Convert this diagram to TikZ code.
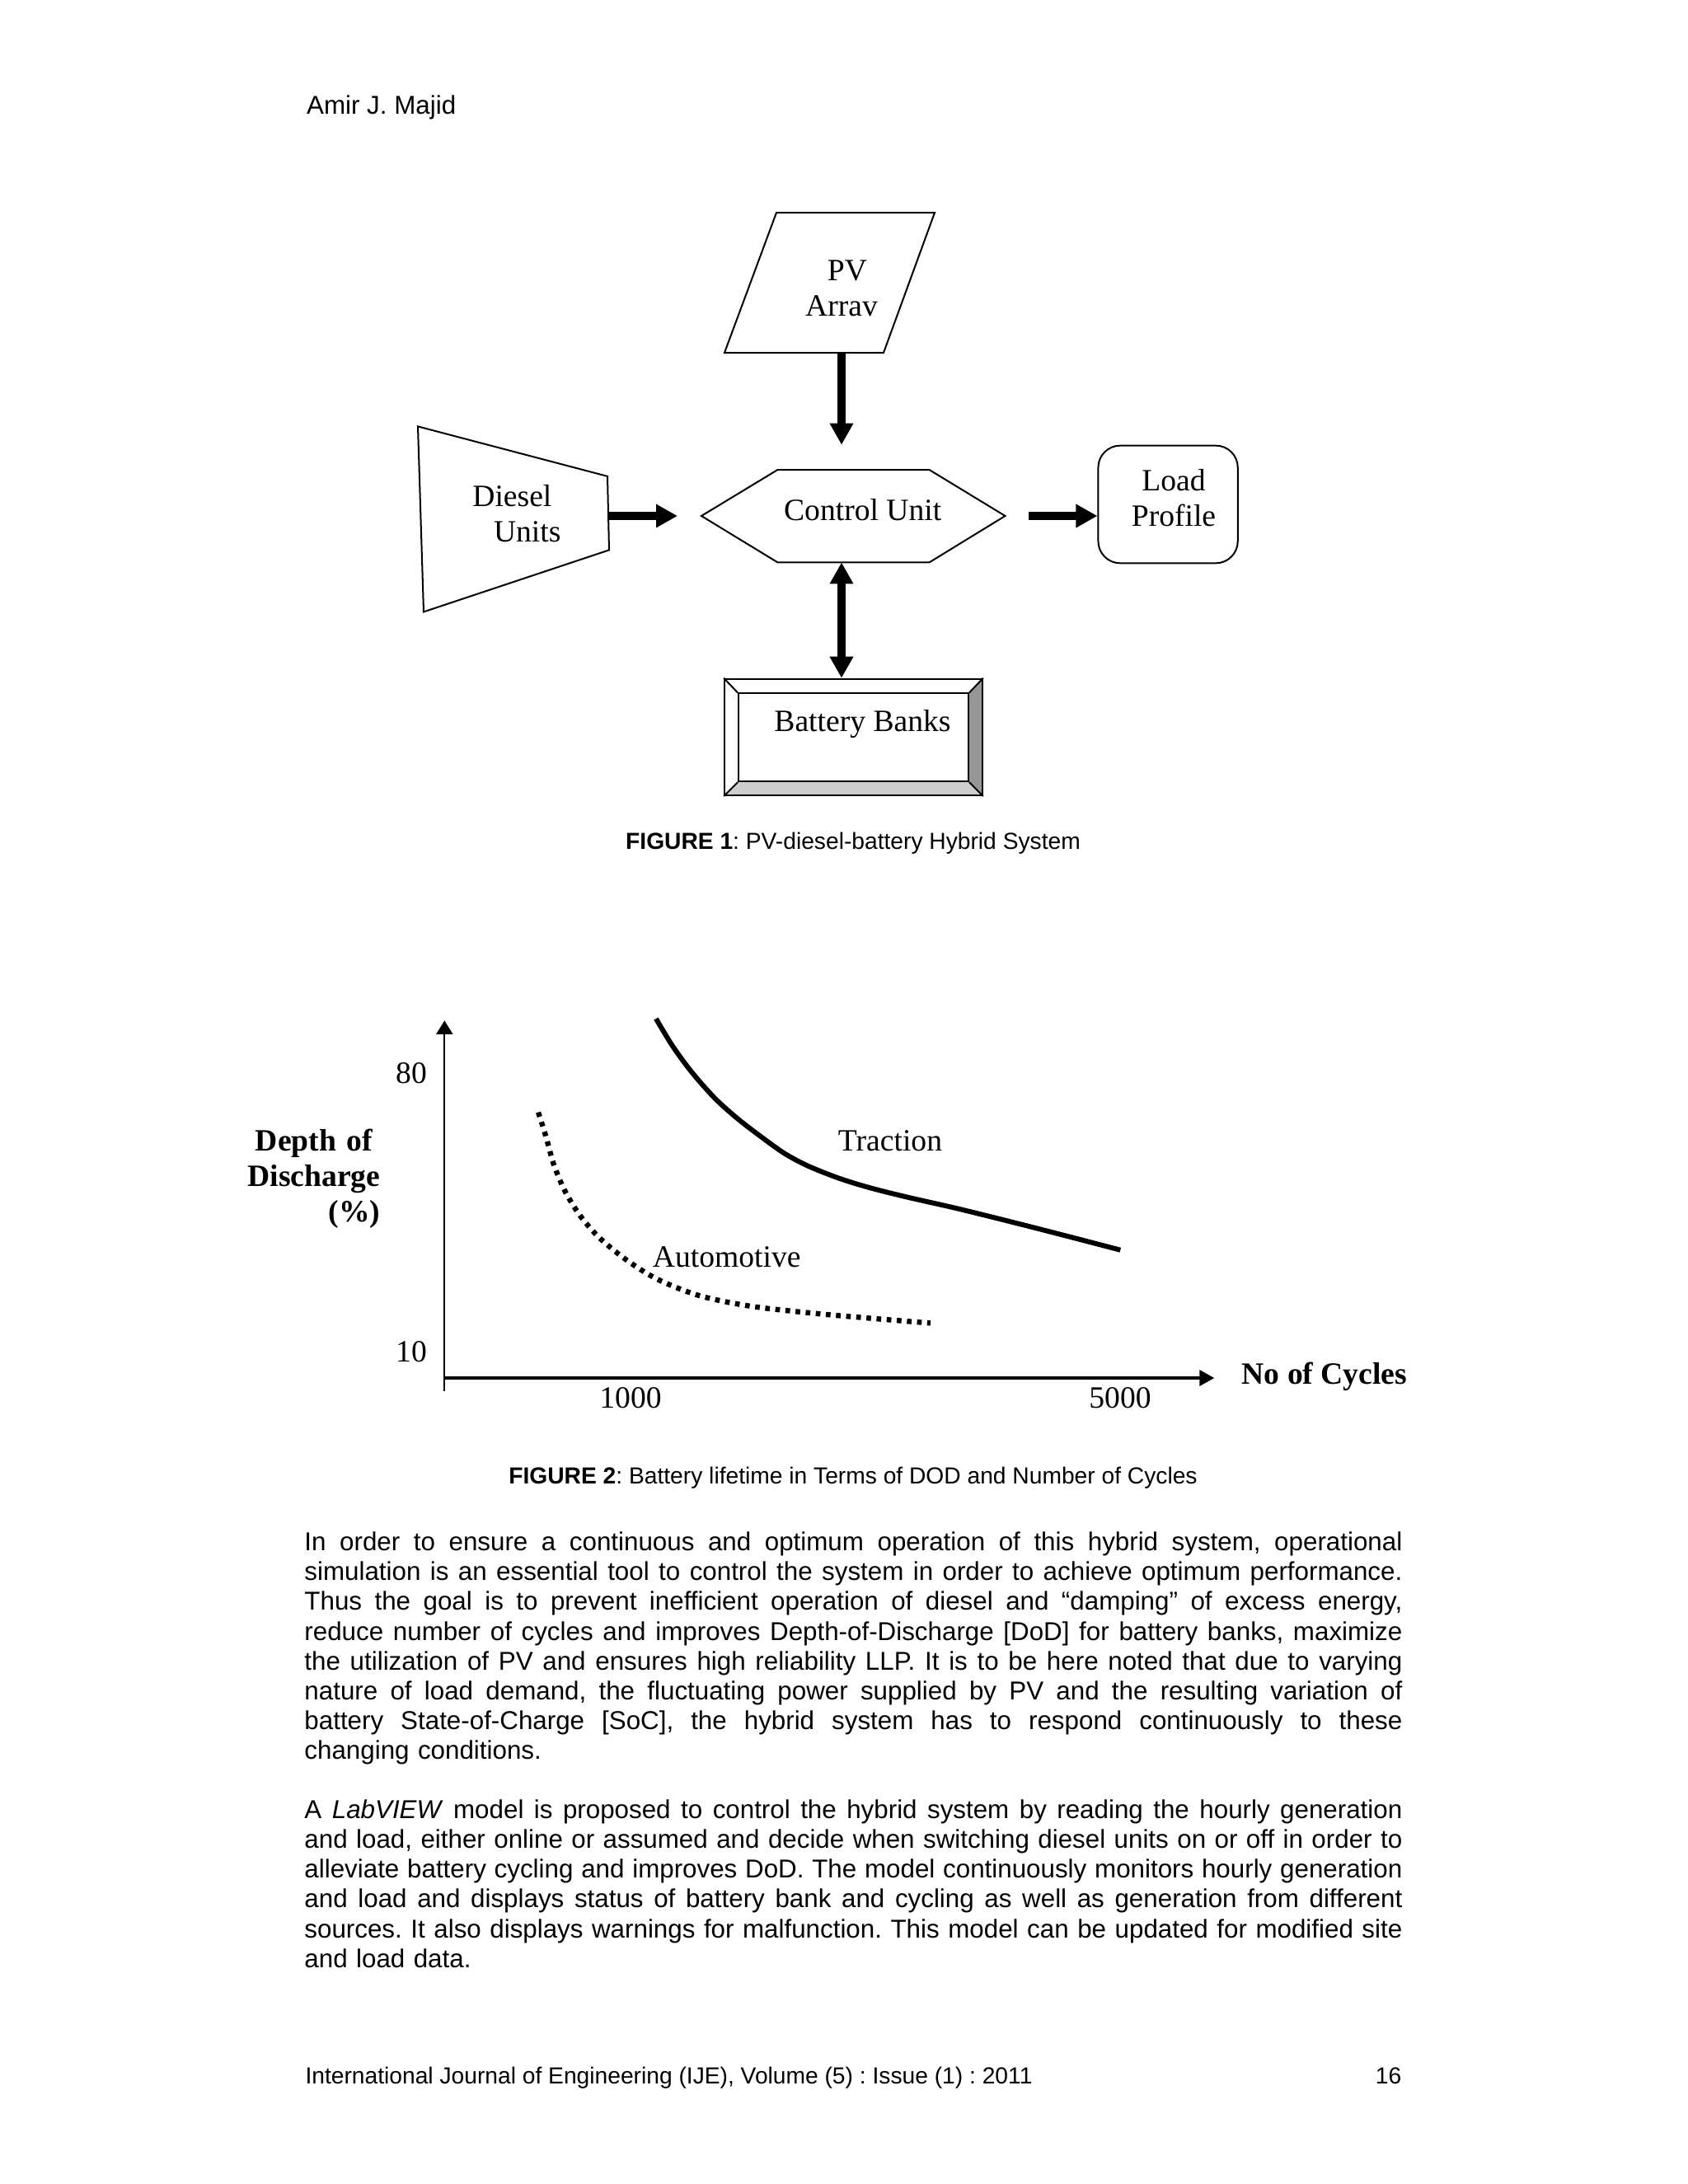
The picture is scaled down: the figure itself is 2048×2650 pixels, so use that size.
\documentclass[tikz,border=0pt]{standalone}
\usepackage{fontspec}
\setmainfont{Liberation Serif}
\newfontfamily\arialfont{Liberation Sans}
\newfontfamily\timesfont{Liberation Serif}
\usepackage{xcolor}
\usetikzlibrary{arrows.meta,positioning,backgrounds}
\definecolor{beveldark}{RGB}{150,150,150}
\definecolor{bevellight}{RGB}{205,205,205}
\setlength{\parindent}{0pt}
\frenchspacing
\newlength{\bodywidth}
\setlength{\bodywidth}{399.6pt}
\tikzset{
  bodytext/.style = {inner sep=0pt, font=\arialfont\fontsize{9.4}{10.83}\selectfont},
  captext/.style  = {inner sep=0pt, font=\arialfont\fontsize{8.46}{9.7}\selectfont},
  figtext/.style  = {inner sep=0pt, font=\timesfont\fontsize{11.28}{12.9}\selectfont},
  figbold/.style  = {inner sep=0pt, font=\timesfont\bfseries\fontsize{11.28}{12.9}\selectfont},
  outline/.style  = {draw, line width=0.6pt, line join=miter},
  loadbox/.style  = {draw, line width=0.6pt, rounded corners=8pt,
                     minimum width=50.8pt, minimum height=42.8pt, inner sep=0pt},
  batbox/.style   = {draw, line width=0.6pt, inner sep=0pt},
  bigarr/.style   = {-{Triangle[length=7.8pt,width=8.1pt]}, line width=3pt},
  bigdarr/.style  = {{Triangle[length=7.8pt,width=8.1pt]}-{Triangle[length=7.8pt,width=8.1pt]},
                     line width=3pt},
  yaxis/.style    = {-{Triangle[length=5pt,width=6pt]}, line width=0.6pt},
  xaxis/.style    = {-{Triangle[length=5.4pt,width=5.7pt]}, line width=1pt},
  traction/.style = {line width=1.8pt},
  automotive/.style = {line width=1.9pt, dash pattern=on 1.7pt off 2pt},
}
% one justified line of body text
\newcommand{\jline}[1]{\hbox to\bodywidth{\spaceskip=0.2778em plus 0.5em minus 0.08em\relax #1}\par}

\begin{document}
\begin{tikzpicture}[x=0.3pt, y=-0.3pt]
\useasboundingbox (0,0) rectangle (2048,2650);

% running head
\node[bodytext, anchor=base west] (author) at (371.5,138.3) {Amir J. Majid};

% ---------------- Figure 1 ----------------
% PV array (parallelogram)
\coordinate (pv-nw) at (942,258);
\coordinate (pv-ne) at (1134,258);
\coordinate (pv-se) at (1072,428);
\coordinate (pv-sw) at (879,428);
\coordinate (pv-s)  at (1021,428);
\draw[outline] (pv-nw) -- (pv-ne) -- (pv-se) -- (pv-sw) -- cycle;
\node[figtext, text width=30pt, align=center, anchor=base] (pvtext) at (1021,340)
  {\hspace*{4.2pt}PV\\Arrav};

% Diesel units (trapezoid)
\coordinate (dsl-nw) at (507,517.4);
\coordinate (dsl-ne) at (737,577.9);
\coordinate (dsl-se) at (739,667.4);
\coordinate (dsl-sw) at (514,742.4);
\coordinate (dsl-e)  at (738,626);
\draw[outline] (dsl-nw) -- (dsl-ne) -- (dsl-se) -- (dsl-sw) -- cycle;
\node[figtext, text width=40pt, align=left, anchor=base west] (dsltext) at (572.7,614)
  {Diesel\\\hspace*{7.7pt}Units};

% Control unit (hexagon)
\coordinate (ctrl-w)  at (851,626);
\coordinate (ctrl-nw) at (943.5,570);
\coordinate (ctrl-ne) at (1127.5,570);
\coordinate (ctrl-e)  at (1219.5,626);
\coordinate (ctrl-se) at (1127.5,682.4);
\coordinate (ctrl-sw) at (943.5,682.4);
\coordinate (ctrl-n)  at (1021,570);
\coordinate (ctrl-s)  at (1021,682.4);
\draw[outline] (ctrl-w) -- (ctrl-nw) -- (ctrl-ne) -- (ctrl-e) -- (ctrl-se) -- (ctrl-sw) -- cycle;
\node[figtext, anchor=base] (ctrltext) at (1046.7,631.6) {Control Unit};

% Load profile
\node[loadbox] (load) at (1417.1,612) {};
\node[figtext, text width=40pt, align=center, anchor=base] (loadtext) at (1424,595)
  {Load\\Profile};

% Battery banks (bevelled box)
\node[batbox, minimum width=93.8pt, minimum height=42.4pt] (bat) at (1035.5,894.4) {};
\node[batbox, minimum width=83.7pt, minimum height=32pt] (batin) at (1035.5,894.8) {};
\begin{scope}[on background layer]
  \fill[beveldark] (bat.north east) -- (bat.south east) -- (batin.south east) -- (batin.north east) -- cycle;
  \fill[bevellight] (bat.south west) -- (bat.south east) -- (batin.south east) -- (batin.south west) -- cycle;
\end{scope}
\foreach \c in {north west, north east, south east, south west}
  \draw[line width=0.6pt] (bat.\c) -- (batin.\c);
\node[figtext, anchor=base] (battext) at (1046.5,887) {Battery Banks};

% connectors
\draw[bigarr, shorten >=9.1pt] (pv-s) -- (ctrl-n);
\draw[bigarr, shorten >=8.7pt] (dsl-e) -- (ctrl-w);
\draw[bigarr, shorten <=8.5pt] (ctrl-e) -- (ctrl-e -| load.west);
\draw[bigdarr] (ctrl-s) -- (ctrl-s |- bat.north);

\node[captext, anchor=base] (cap1) at (1035,1030)
  {\textbf{FIGURE 1}: PV-diesel-battery Hybrid System};

% ---------------- Figure 2 ----------------
\coordinate (origin) at (539.3,1672);
\coordinate (ybot)   at (539.3,1688);
\coordinate (ytop)   at (539.3,1238.3);
\coordinate (xend)   at (1473.3,1672);
\draw[yaxis] (ybot) -- (ytop);
\draw[xaxis] (origin) -- (xend);

\node[figtext, anchor=base] (tick80)   at (499,1314)  {80};
\node[figtext, anchor=base] (tick10)   at (499,1652)  {10};
\node[figtext, anchor=base] (tick1000) at (765,1708)  {1000};
\node[figtext, anchor=base] (tick5000) at (1359,1708) {5000};
\node[figbold, text width=60pt, align=right, anchor=base east] (dodlabel) at (462,1396)
  {Depth of\kern2.8pt\\Discharge\\(\%)};
\node[figbold, anchor=base west] (cyclabel) at (1506,1679) {No of Cycles};

% curves
\draw[traction] plot[smooth] coordinates {(795.9,1236) (816.4,1269.8) (839.7,1301.4)
  (867.7,1333) (895.7,1358) (923.7,1379.5) (951.6,1399.4) (979.6,1414.4) (1016.9,1429.3)
  (1054.3,1440.9) (1100.9,1452.6) (1166.2,1467.5) (1259.5,1490.8) (1359.3,1516.7)};
\draw[automotive] plot[smooth] coordinates {(653.1,1349.6) (662.5,1379.5) (671.8,1412.7)
  (685.8,1445.9) (704.4,1475.8) (727.8,1502.4) (760.4,1529) (797.7,1552.2) (849,1572.2)
  (914.3,1585.4) (1007.6,1595.4) (1128.9,1605.4)};
\node[figtext, anchor=base] (tractext) at (1080,1396)  {Traction};
\node[figtext, anchor=base] (autotext) at (881.7,1537) {Automotive};

\node[captext, anchor=base] (cap2) at (1035,1800.7)
  {\textbf{FIGURE 2}: Battery lifetime in Terms of DOD and Number of Cycles};

% ---------------- body text ----------------
\node[bodytext, text width=399.6pt, anchor=base west] (para1) at (368.8,1881.7) {%
\jline{In order to ensure a continuous and optimum operation of this hybrid system, operational}%
\jline{simulation is an essential tool to control the system in order to achieve optimum performance.}%
\jline{Thus the goal is to prevent inefficient operation of diesel and “damping” of excess energy,}%
\jline{reduce number of cycles and improves Depth-of-Discharge [DoD] for battery banks, maximize}%
\jline{the utilization of PV and ensures high reliability LLP. It is to be here noted that due to varying}%
\jline{nature of load demand, the fluctuating power supplied by PV and the resulting variation of}%
\jline{battery State-of-Charge [SoC], the hybrid system has to respond continuously to these}%
changing conditions.};

\node[bodytext, text width=399.6pt, anchor=base west] (para2) at (368.8,2206.6) {%
\jline{A \textit{LabVIEW} model is proposed to control the hybrid system by reading the hourly generation}%
\jline{and load, either online or assumed and decide when switching diesel units on or off in order to}%
\jline{alleviate battery cycling and improves DoD. The model continuously monitors hourly generation}%
\jline{and load and displays status of battery bank and cycling as well as generation from different}%
\jline{sources. It also displays warnings for malfunction. This model can be updated for modified site}%
and load data.};

% running foot
\node[captext, anchor=base west] (journal) at (369.9,2528.3)
  {International Journal of Engineering (IJE), Volume (5) : Issue (1) : 2011};
\node[captext, anchor=base east] (pageno) at (1701,2528.3) {16};

\end{tikzpicture}
\end{document}
